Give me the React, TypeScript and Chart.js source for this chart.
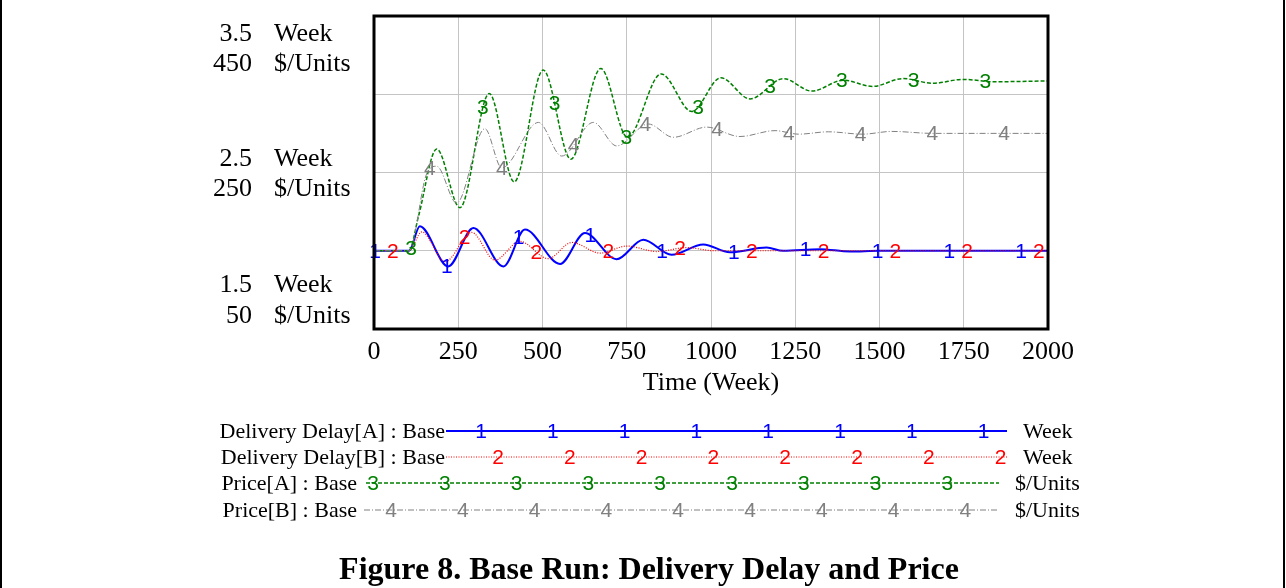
import React, { useEffect, useRef } from "react";
import { Chart, registerables } from "chart.js";

Chart.register(...registerables);

// ---------- data ----------
const timesDelayA = [0, 104, 136, 220, 295, 384, 448, 552, 626, 720, 799, 883, 977, 1056, 1165, 1214, 1323, 1412, 1500, 2000];
const delayA = [2.0, 2.0, 2.156, 1.9, 2.145, 1.9, 2.135, 1.916, 2.113, 1.946, 2.07, 1.974, 2.04, 1.99, 2.02, 2.0, 2.01, 1.995, 2.0, 2.0];

const timesDelayB = [0, 104, 142, 211, 290, 359, 433, 517, 587, 671, 750, 839, 928, 1010, 2000];
const delayB = [2.0, 2.0, 2.12, 1.93, 2.117, 1.94, 2.06, 1.95, 2.053, 1.985, 2.03, 1.995, 2.02, 2.0, 2.0];

const timesPriceA = [0, 104, 132, 186, 255, 342, 416, 502, 584, 673, 752, 852, 943, 1029, 1116, 1215, 1299, 1393, 1479, 1570, 1659, 1748, 1840, 2000];
const priceA = [150, 150, 194, 280, 205, 351, 238, 381, 267, 383, 295, 376, 328, 371, 344, 370, 354, 368, 360, 370, 364, 369, 366, 367];

const timesPriceB = [0, 104, 156, 186, 245, 329, 379, 488, 557, 651, 720, 814, 888, 987, 1086, 1190, 1260, 1348, 1450, 1536, 1659, 2000];
const priceB = [150, 150, 248, 258, 211, 306, 256, 314, 271, 314, 284, 312, 295, 308, 296, 303.5, 299, 302, 299, 302.5, 300, 300];

const seriesNames = ["Delivery Delay[A] : Base", "Delivery Delay[B] : Base", "Price[A] : Base", "Price[B] : Base"];
const seriesUnits = ["Week", "Week", "$/Units", "$/Units"];
const seriesMarks = ["1", "2", "3", "4"];

const delayTickLabels = ["3.5", "2.5", "1.5"];
const priceTickLabels = ["450", "250", "50"];
const delayUnit = "Week";
const priceUnit = "$/Units";

const xAxisTitle = "Time (Week)";
const figureTitle = "Figure 8. Base Run: Delivery Delay and Price";

// ---------- styles ----------
const SERIF = '"Liberation Serif", "Times New Roman", Times, serif';
const SANS = '"Liberation Sans", Arial, Helvetica, sans-serif';
const COLORS = ["#0000ff", "#ff0000", "#008000", "#808080"];
const DASHES: number[][] = [[], [1, 1.5], [4, 2], [6, 2, 1, 2]];
const WIDTHS = [2, 1.2, 1.5, 1];

const toPoints = (ts: number[], vs: number[]) => ts.map((t, i) => ({ x: t, y: vs[i] }));

function curveY(meta: any, px: number): number {
  const pts = meta.data;
  for (let i = 0; i < pts.length - 1; i++) {
    const a = pts[i];
    const b = pts[i + 1];
    if (px >= a.x && px <= b.x) {
      const u = b.x - a.x === 0 ? 0 : (px - a.x) / (b.x - a.x);
      const y0 = a.y;
      const y1 = a.cp2y ?? a.y;
      const y2 = b.cp1y ?? b.y;
      const y3 = b.y;
      const m = 1 - u;
      return m * m * m * y0 + 3 * m * m * u * y1 + 3 * m * u * u * y2 + u * u * u * y3;
    }
  }
  return pts[pts.length - 1].y;
}

const overlayPlugin = {
  id: "vensimOverlay",
  afterDatasetsDraw(chart: any) {
    const ctx = chart.ctx;
    const xs = chart.scales.x;
    // in-plot numeric markers
    const offsets = [3, 56, 110, 166];
    const spacing = 213;
    ctx.save();
    ctx.font = `21px ${SANS}`;
    ctx.textAlign = "center";
    ctx.textBaseline = "middle";
    for (let i = 0; i < 4; i++) {
      const meta = chart.getDatasetMeta(i);
      ctx.fillStyle = COLORS[i];
      for (let t = offsets[i]; t <= 2000; t += spacing) {
        const px = xs.getPixelForValue(t);
        const py = curveY(meta, px);
        ctx.fillText(seriesMarks[i], px, py + 1);
      }
    }
    ctx.restore();
  },
  afterDraw(chart: any) {
    const ctx = chart.ctx;
    const area = chart.chartArea;
    const yD = chart.scales.yD;
    ctx.save();

    // plot frame
    ctx.strokeStyle = "#000";
    ctx.lineWidth = 3;
    ctx.setLineDash([]);
    ctx.strokeRect(area.left, area.top, area.right - area.left, area.bottom - area.top);

    // x axis title
    ctx.fillStyle = "#000";
    ctx.font = `26px ${SERIF}`;
    ctx.textAlign = "center";
    ctx.textBaseline = "middle";
    ctx.fillText(xAxisTitle, (area.left + area.right) / 2, area.bottom + 54);

    // left axis labels (two lines each)
    const tickVals = [3.5, 2.5, 1.5];
    const lineOffsets = [[18, 48], [-13, 17], [-44, -13]];
    tickVals.forEach((v, i) => {
      const py = yD.getPixelForValue(v);
      const [o1, o2] = lineOffsets[i];
      ctx.textAlign = "right";
      ctx.fillText(delayTickLabels[i], area.left - 122, py + o1);
      ctx.fillText(priceTickLabels[i], area.left - 122, py + o2);
      ctx.textAlign = "left";
      ctx.fillText(delayUnit, area.left - 100, py + o1);
      ctx.fillText(priceUnit, area.left - 100, py + o2);
    });

    // legend
    const rowsY = [431, 457, 483, 510];
    const textEnd = [445, 445, 357, 357];
    const lineStart = [446, 446, 366, 364];
    const lineEnd = [1007, 1007, 999, 999];
    const markStart = [481, 498, 373, 391];
    const markCount = [8, 8, 9, 9];
    const unitX = [1023, 1023, 1015, 1015];
    for (let i = 0; i < 4; i++) {
      const y = rowsY[i];
      ctx.font = `22px ${SERIF}`;
      ctx.fillStyle = "#000";
      ctx.textBaseline = "middle";
      ctx.textAlign = "right";
      ctx.fillText(seriesNames[i], textEnd[i], y + 1);
      ctx.textAlign = "left";
      ctx.fillText(seriesUnits[i], unitX[i], y + 1);

      ctx.strokeStyle = COLORS[i];
      ctx.lineWidth = WIDTHS[i];
      ctx.setLineDash(DASHES[i]);
      ctx.beginPath();
      ctx.moveTo(lineStart[i], y);
      ctx.lineTo(lineEnd[i], y);
      ctx.stroke();
      ctx.setLineDash([]);

      ctx.font = `21px ${SANS}`;
      ctx.fillStyle = COLORS[i];
      ctx.textAlign = "center";
      for (let k = 0; k < markCount[i]; k++) {
        ctx.fillText(seriesMarks[i], markStart[i] + k * 71.8, y + 1);
      }
    }

    // figure title
    ctx.fillStyle = "#000";
    ctx.font = `bold 32px ${SERIF}`;
    ctx.textAlign = "center";
    ctx.textBaseline = "middle";
    ctx.fillText(figureTitle, 649, 571);

    // outer frame (left and right rules)
    ctx.strokeStyle = "#000";
    ctx.lineWidth = 2;
    ctx.beginPath();
    ctx.moveTo(1, 0);
    ctx.lineTo(1, chart.height);
    ctx.moveTo(1284, 0);
    ctx.lineTo(1284, chart.height);
    ctx.stroke();

    ctx.restore();
  },
};

export default function App() {
  const canvasRef = useRef<HTMLCanvasElement | null>(null);

  useEffect(() => {
    document.body.style.margin = "0";
    const canvas = canvasRef.current;
    if (!canvas) return;
    const mk = (i: number, data: any[], axis: string) => ({
      label: seriesNames[i],
      data,
      yAxisID: axis,
      borderColor: COLORS[i],
      borderWidth: WIDTHS[i],
      borderDash: DASHES[i],
      pointRadius: 0,
      fill: false,
      cubicInterpolationMode: "monotone" as const,
      order: 4 - i,
    });
    const chart = new Chart(canvas, {
      type: "line",
      data: {
        datasets: [
          mk(0, toPoints(timesDelayA, delayA), "yD"),
          mk(1, toPoints(timesDelayB, delayB), "yD"),
          mk(2, toPoints(timesPriceA, priceA), "yP"),
          mk(3, toPoints(timesPriceB, priceB), "yP"),
        ],
      },
      options: {
        responsive: false,
        animation: false,
        layout: { padding: { left: 374, top: 16, right: 238, bottom: 213 } },
        plugins: {
          legend: { display: false },
          tooltip: { enabled: false },
          title: { display: false },
        },
        scales: {
          x: {
            type: "linear",
            min: 0,
            max: 2000,
            ticks: {
              stepSize: 250,
              autoSkip: false,
              maxRotation: 0,
              padding: 10,
              color: "#000",
              font: { family: SERIF, size: 26, lineHeight: 1 },
              callback: (v: any) => String(v),
            },
            grid: { color: "#c4c4c4", lineWidth: 1, drawTicks: false },
            border: { display: false },
            title: { display: false },
          },
          yD: {
            type: "linear",
            position: "left",
            min: 1.5,
            max: 3.5,
            ticks: { display: false, stepSize: 0.5 },
            grid: { color: "#c4c4c4", lineWidth: 1, drawTicks: false },
            border: { display: false },
          },
          yP: {
            type: "linear",
            position: "right",
            min: 50,
            max: 450,
            display: false,
          },
        },
      },
      plugins: [overlayPlugin],
    });
    return () => chart.destroy();
  }, []);

  return (
    <div style={{ position: "absolute", left: 0, top: 0, width: 1286, height: 588, background: "#fff" }}>
      <canvas ref={canvasRef} width={1286} height={588} style={{ display: "block" }} />
    </div>
  );
}
